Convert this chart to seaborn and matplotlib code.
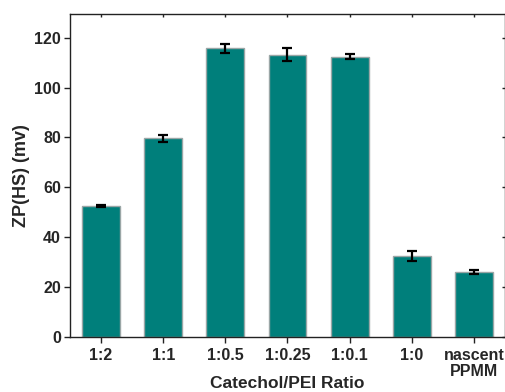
import matplotlib
matplotlib.use("Agg")
import matplotlib.pyplot as plt
import seaborn as sns
import pandas as pd
import numpy as np

categories = ["1:2", "1:1", "1:0.5", "1:0.25", "1:0.1", "1:0", "nascent\nPPMM"]
zp_values = [52.5, 79.6, 115.7, 113.1, 112.4, 32.4, 26.0]
zp_errors = [0.5, 1.5, 1.9, 2.6, 0.9, 2.1, 0.9]
y_ticks = [0, 20, 40, 60, 80, 100, 120]

sns.set_theme(style="ticks")
plt.rcParams["font.family"] = ["Liberation Sans", "DejaVu Sans"]
plt.rcParams["font.weight"] = "bold"

df = pd.DataFrame({"ratio": categories, "zp": zp_values})

fig = plt.figure(figsize=(5.06, 3.92), dpi=100)
ax = fig.add_axes([70/506, 1-337/392, 435/506, 323/392])

sns.barplot(data=df, x="ratio", y="zp", order=categories, color="#007f7b",
            saturation=1, width=0.61, edgecolor="#9aa6a6", linewidth=1.0,
            errorbar=None, ax=ax)
xpos = np.arange(len(categories))
ax.errorbar(xpos, zp_values, yerr=zp_errors, fmt="none", ecolor="black",
            elinewidth=1.6, capsize=3.5, capthick=1.6)

ax.set_xlim(-0.5, 6.5)
ax.set_ylim(0, 129.5)
ax.set_yticks(y_ticks)
ax.set_xlabel("Catechol/PEI Ratio", fontsize=12.5, fontweight="bold", va="baseline")
ax.xaxis.set_label_coords(0.5, (337 - 388) / 323)
ax.set_ylabel("ZP(HS) (mv)", fontsize=13, fontweight="bold", labelpad=3)

for s in ax.spines.values():
    s.set_visible(True)
    s.set_linewidth(1.0)
    s.set_color("#222222")

ax.tick_params(axis="both", which="major", direction="out", length=4.5, width=1.0,
               color="#222222", labelsize=11.5)
ax.tick_params(axis="x", pad=3.5)
ax.tick_params(axis="y", pad=2)
ax.tick_params(top=True, right=True)
for lab in ax.get_xticklabels() + ax.get_yticklabels():
    lab.set_fontweight("bold")
    lab.set_linespacing(1.05)
for t in ax.xaxis.get_major_ticks():
    t.tick2line.set_markersize(2.5)
    t.tick2line.set_marker(3)  # pointing down (inward at top)
    t.tick1line.set_marker(3)  # pointing down (outward at bottom)
    t.tick1line.set_markersize(4.5)
for t in ax.yaxis.get_major_ticks():
    t.tick2line.set_markersize(2.5)
    t.tick2line.set_marker(0)  # pointing left (inward at right)

fig.savefig("out.png", dpi=100)
